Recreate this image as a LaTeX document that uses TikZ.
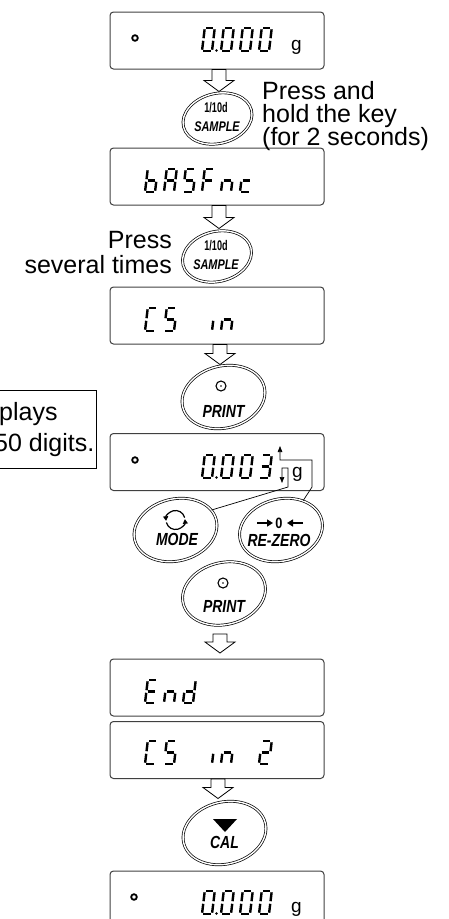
\documentclass[tikz,border=0pt]{standalone}
\usepackage{fontspec}
\setmainfont{Liberation Sans}
\usetikzlibrary{shapes.geometric,arrows.meta}
\def\sga{0/23/10/23}
\def\sgb{10/23/10/11.5}
\def\sgc{10/11.5/10/0}
\def\sgd{0/0/10/0}
\def\sge{0/11.5/0/0}
\def\sgf{0/23/0/11.5}
\def\sgg{0/11.5/10/11.5}
\def\drawseg#1/#2/#3/#4\relax{\draw[seg] (#1,-#2) -- (#3,-#4);}
\newcommand\sevseg[3]{\begin{scope}[shift={(#1,#2)},xslant=0.12]\foreach \s in {#3}{\edef\segtmp{\csname sg\s\endcsname}\expandafter\drawseg\segtmp\relax}\end{scope}}
\newcommand\harrow[2]{\draw[hollow] (#1) ++(-7,0) -- ++(14,0) -- ++(0,#2) -- ++(8,0) -- ++(-15,11) -- ++(-15,-11) -- ++(8,0) -- cycle;}
\begin{document}
\begin{tikzpicture}[x=1pt,y=-1pt,
 disp/.style={draw=black!75, line width=1pt, rounded corners=3.5pt, minimum width=214pt, minimum height=57pt, inner sep=0pt},
 keyshape/.style={ellipse, draw=black, line width=0.7pt, double=white, double distance=1.4pt, inner sep=0pt, rotate=14},
 bigkey/.style={keyshape, minimum width=84pt, minimum height=62pt},
 smallkey/.style={keyshape, minimum width=70pt, minimum height=50pt},
 seg/.style={line width=2.4pt, shorten >=1.3pt, shorten <=1.3pt},
 hollow/.style={draw=black, line width=0.8pt, fill=white, line join=miter},
 conn/.style={draw=black, line width=0.7pt},
 lbl/.style={font=\fontsize{17.5}{17.5}\selectfont\bfseries\itshape, inner sep=0pt, xscale=0.8},
 sml/.style={font=\fontsize{14}{14}\selectfont\bfseries, inner sep=0pt, xscale=0.65},
 smlit/.style={font=\fontsize{14}{14}\selectfont\bfseries\itshape, inner sep=0pt, xscale=0.78},
 note/.style={font=\fontsize{25}{25}\selectfont, inner sep=0pt},
 unit/.style={font=\fontsize{19}{19}\selectfont, inner sep=0pt, anchor=base west},
 tip/.style={-{Triangle[length=6pt,width=4.5pt]}}
]
\useasboundingbox (0,0) rectangle (449,919);
\clip (0,0) rectangle (449,919);
% displays
\node[disp] (d1) at (217,40.5) {};
\node[disp] (d2) at (217,176.5) {};
\node[disp] (d3) at (217,315.5) {};
\node[disp] (d4) at (217,462) {};
\node[disp] (d5) at (217,687.5) {};
\node[disp] (d6) at (217,750) {};
\node[disp] (d7) at (217,899.5) {};
% keys
\node[smallkey] (k1) at (217.5,118.5) {};
\node[smallkey] (k2) at (217,256.5) {};
\node[bigkey] (p1) at (223.5,397) {};
\node[bigkey] (mode) at (175.5,530) {};
\node[bigkey] (rz) at (281,530) {};
\node[bigkey] (p2) at (224,593.5) {};
\node[bigkey] (cal) at (224.5,833) {};
% hollow arrows
\harrow{[xshift=2pt]d1.south}{11}
\harrow{[xshift=2pt]d2.south}{12}
\harrow{[xshift=3pt]d3.south}{9}
\coordinate (a4) at (220,634);
\harrow{a4}{8}
\harrow{[xshift=1pt]d6.south}{8.5}
% display 1
\draw[line width=1.8pt] (135,38) circle (2.8);
\sevseg{202}{51}{a,b,c,d,e,f}
\sevseg{221}{51}{a,b,c,d,e,f}
\sevseg{240}{51}{a,b,c,d,e,f}
\sevseg{259}{51}{a,b,c,d,e,f}
\fill (216.5,50.5) circle (1.4);
\node[unit] at (291,50) {g};
% display 2 bASFnc
\sevseg{145}{192}{c,d,e,f,g}
\sevseg{164}{192}{a,b,c,e,f,g}
\sevseg{183}{192}{a,c,d,f,g}
\sevseg{202}{192}{a,e,f,g}
\sevseg{221}{192}{c,e,g}
\sevseg{240}{192}{d,e,g}
% display 3 CS in
\sevseg{145}{331}{a,d,e,f}
\sevseg{164}{331}{a,c,d,f,g}
\sevseg{202}{331}{c}
\sevseg{221}{331}{c,e,g}
% display 4 0.003
\draw[line width=1.8pt] (135,460) circle (2.8);
\sevseg{202}{478}{a,b,c,d,e,f}
\sevseg{221}{478}{a,b,c,d,e,f}
\sevseg{240}{478}{a,b,c,d,e,f}
\sevseg{259}{478}{a,b,c,d,g}
\fill (216.5,477.5) circle (1.4);
\node[unit] at (292,477) {g};
\coordinate (dnTip) at (282,483);
\coordinate (upTip) at (280,446);
\draw[conn,tip] (mode.15) -- (288,487) -- (288,468) -- (282,468) -- (dnTip);
\draw[conn,tip] (rz.39) -- (312,487) -- (312,460) -- (280,460) -- (upTip);
% display 5 End
\sevseg{145}{703}{a,d,e,f,g}
\sevseg{164}{703}{c,e,g}
\sevseg{183}{703}{b,c,d,e,g}
% display 6 CS in 2
\sevseg{145}{764}{a,d,e,f}
\sevseg{164}{764}{a,c,d,f,g}
\sevseg{202}{764}{c}
\sevseg{221}{764}{c,e,g}
\sevseg{259}{764}{a,b,d,e,g}
% display 7
\draw[line width=1.8pt] (134,897) circle (2.8);
\sevseg{202}{914}{a,b,c,d,e,f}
\sevseg{221}{914}{a,b,c,d,e,f}
\sevseg{240}{914}{a,b,c,d,e,f}
\sevseg{259}{914}{a,b,c,d,e,f}
\fill (216.5,913.5) circle (1.4);
\node[unit] at (291,912) {g};
% key labels
\node[sml] at (216,108) {1/10d};
\node[smlit] at (217,127) {SAMPLE};
\node[sml] at (216,246) {1/10d};
\node[smlit] at (216,265) {SAMPLE};
\draw[line width=1.1pt] (221,386) circle (5); \fill (221,386) circle (0.9);
\node[lbl] at (223.5,411) {PRINT};
\begin{scope}[shift={(175.5,520)},yscale=-1]
 \draw[line width=1.2pt,-{Triangle[length=4.5pt,width=5pt]}] (15:9.5) arc[start angle=15,end angle=185,radius=9.5];
 \draw[line width=1.2pt,-{Triangle[length=4.5pt,width=5pt]}] (195:9.5) arc[start angle=195,end angle=365,radius=9.5];
\end{scope}
\node[lbl] at (177,539.5) {MODE};
\draw[line width=2.2pt,-{Triangle[length=6pt,width=7pt]}] (257,523) -- (273,523);
\draw[line width=2.2pt,-{Triangle[length=6pt,width=7pt]}] (303,523) -- (287,523);
\node[font=\fontsize{15}{15}\selectfont\bfseries, inner sep=0pt, xscale=0.85] at (279,523) {0};
\node[lbl] at (279,540) {RE-ZERO};
\draw[line width=1.1pt] (223,583) circle (5); \fill (223,583) circle (0.9);
\node[lbl] at (224,606.5) {PRINT};
\fill (213,819) -- (237,819) -- (225,832) -- cycle;
\node[lbl] at (224.5,842.5) {CAL};
% notes
\node[note,anchor=base west] at (262,99) {Press and};
\node[note,anchor=base west] at (262,122) {hold the key};
\node[note,anchor=base west] at (262,145) {(for 2 seconds)};
\node[note,anchor=base east] at (172,248) {Press};
\node[note,anchor=base east] at (172,273) {several times};
\node[draw, line width=0.8pt, anchor=north east, minimum width=105pt, minimum height=78pt, inner sep=0pt] (info) at (97,390) {};
\node[note,anchor=base west] at (-1,420) {plays};
\node[note,anchor=base west] at (-6,451) {50 digits.};
\end{tikzpicture}
\end{document}
